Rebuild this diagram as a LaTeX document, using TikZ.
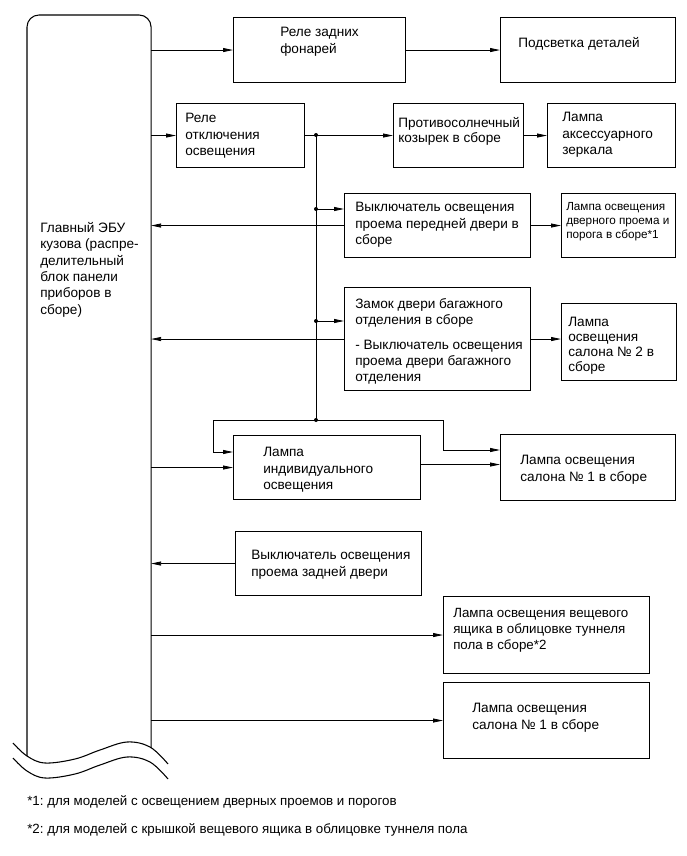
\documentclass[tikz,border=0pt]{standalone}
\usepackage{fontspec}
\setmainfont{Liberation Sans}
\usetikzlibrary{arrows.meta}
\frenchspacing
\tikzset{
  unitbox/.style 2 args={rectangle, draw=black, line width=0.8pt, anchor=north west, inner sep=0pt, minimum width=#1*0.75pt, minimum height=#2*0.75pt},
  boxtext/.style={anchor=north west, align=left, inner sep=0pt, font=\fontsize{10.2}{12.3}\selectfont},
  smalltext/.style={boxtext, font=\fontsize{8.8}{10.5}\selectfont},
  wire/.style={line width=0.6pt},
  wirearrow/.style={wire, -{Triangle[length=7.5pt,width=3pt]}},
  junction/.style={circle, fill=black, inner sep=0pt, minimum size=3pt},
}

\begin{document}
\begin{tikzpicture}[x=0.75pt,y=-0.75pt]
  \useasboundingbox (0,0) rectangle (686,856);

  % body ECU column
  \node[unitbox={123}{732}, draw=none] (ecu) at (27,15) {};
  \draw[line width=0.8pt, rounded corners=9pt] (ecu.west |- 0,756) -- (ecu.north west) -- (ecu.north east) -- (ecu.south east);
  \foreach \d in {0,15} {
    \begin{scope}[shift={(0,\d)}]
      \draw[line width=0.8pt] plot[smooth, tension=0.6] coordinates {(13,743) (27,756) (45,763) (75,759) (100,750) (127,742) (150,747) (168,764)};
    \end{scope}
  }
  \node[boxtext] (ecutxt) at (40,222) {Главный ЭБУ\\кузова (распре-\\делительный\\блок панели\\приборов в\\сборе)};

  % boxes
  \node[unitbox={172}{65}] (tailrelay) at (233,17) {};
  \node[unitbox={175}{65}] (partlight) at (500,17) {};
  \node[unitbox={128}{64}] (cutrelay) at (176,103) {};
  \node[unitbox={130}{64}] (visor) at (393,103) {};
  \node[unitbox={128}{64}] (mirrorlamp) at (547,103) {};
  \node[unitbox={186}{64}] (frontsw) at (344,193) {};
  \node[unitbox={114}{64}] (courtesylamp) at (561,193) {};
  \node[unitbox={186}{103}] (trunklock) at (344,287) {};
  \node[unitbox={115}{77}] (room2lamp) at (561,303) {};
  \node[unitbox={187}{64}] (personallamp) at (233,435) {};
  \node[unitbox={175}{66}] (room1lamp) at (500,434) {};
  \node[unitbox={186}{64}] (rearsw) at (235,531) {};
  \node[unitbox={206}{77}] (consolelamp) at (443,596) {};
  \node[unitbox={206}{76}] (room1lampb) at (443,682) {};

  % texts
  \node[boxtext] (tailtxt) at (280,27) {Реле задних\\фонарей};
  \node[boxtext] (parttxt) at (518,37) {Подсветка деталей};
  \node[boxtext] (cuttxt) at (185,113) {Реле\\отключения\\освещения};
  \node[boxtext, font=\fontsize{10.2}{11.3}\selectfont] (visortxt) at (398,117) {Противосолнечный\\козырек в сборе};
  \node[boxtext] (mirrortxt) at (562,112) {Лампа\\аксессуарного\\зеркала};
  \node[boxtext] (fronttxt) at (355,202) {Выключатель освещения\\проема передней двери в\\сборе};
  \node[smalltext] (courtesytxt) at (566,202) {Лампа освещения\\дверного проема и\\порога в сборе*1};
  \node[boxtext] (trunktxt) at (355,298) {Замок двери багажного\\отделения в сборе\\[6pt]- Выключатель освещения\\проема двери багажного\\отделения};
  \node[boxtext, font=\fontsize{10.2}{11.3}\selectfont] (room2txt) at (568,317) {Лампа\\освещения\\салона № 2 в\\сборе};
  \node[boxtext] (personaltxt) at (263,447) {Лампа\\индивидуального\\освещения};
  \node[boxtext] (room1txt) at (520,455) {Лампа освещения\\салона № 1 в сборе};
  \node[boxtext] (reartxt) at (251,550) {Выключатель освещения\\проема задней двери};
  \node[boxtext, font=\fontsize{10}{12}\selectfont] (consoletxt) at (453,608) {Лампа освещения вещевого\\ящика в облицовке туннеля\\пола в сборе*2};
  \node[boxtext] (room1btxt) at (472,703) {Лампа освещения\\салона № 1 в сборе};
  \node[boxtext, font=\fontsize{10}{12}\selectfont] (note1) at (27,795) {*1: для моделей с освещением дверных проемов и порогов};
  \node[boxtext, font=\fontsize{10}{12}\selectfont] (note2) at (27,823) {*2: для моделей с крышкой вещевого ящика в облицовке туннеля пола};

  % junctions
  \node[junction] (jtop) at (316,135) {};
  \node[junction] (jfront) at (316,209) {};
  \node[junction] (jtrunk) at (316,321) {};
  \node[junction] (jsplit) at (316,420) {};
  \coordinate (lbend) at (213,452);
  \coordinate (rbend) at (443,450);

  % connectors
  \foreach \a/\b in {tailrelay/partlight, cutrelay/visor, visor/mirrorlamp, frontsw/courtesylamp} { \draw[wirearrow] (\a.east) -- (\b.west); }
  \foreach \b in {tailrelay, cutrelay, personallamp, consolelamp, room1lampb} { \draw[wirearrow] (ecu.east |- \b.west) -- (\b.west); }
  \foreach \a in {frontsw, trunklock, rearsw} { \draw[wirearrow] (\a.west) -- (\a.west -| ecu.east); }
  \draw[wire] (jtop.center) -- (jsplit.center);
  \draw[wirearrow] (jfront.center) -- (jfront -| frontsw.west);
  \draw[wirearrow] (jtrunk.center) -- (jtrunk -| trunklock.west);
  \draw[wirearrow] (trunklock.east) -- (trunklock.east -| room2lamp.west);
  \draw[wirearrow] (jsplit.center) -| (lbend) -- (lbend -| personallamp.west);
  \draw[wirearrow] (jsplit.center) -| (rbend) -- (rbend -| room1lamp.west);
  \draw[wirearrow] ([yshift=2.25pt]personallamp.east) -- ([yshift=2.25pt]personallamp.east -| room1lamp.west);
\end{tikzpicture}
\end{document}
